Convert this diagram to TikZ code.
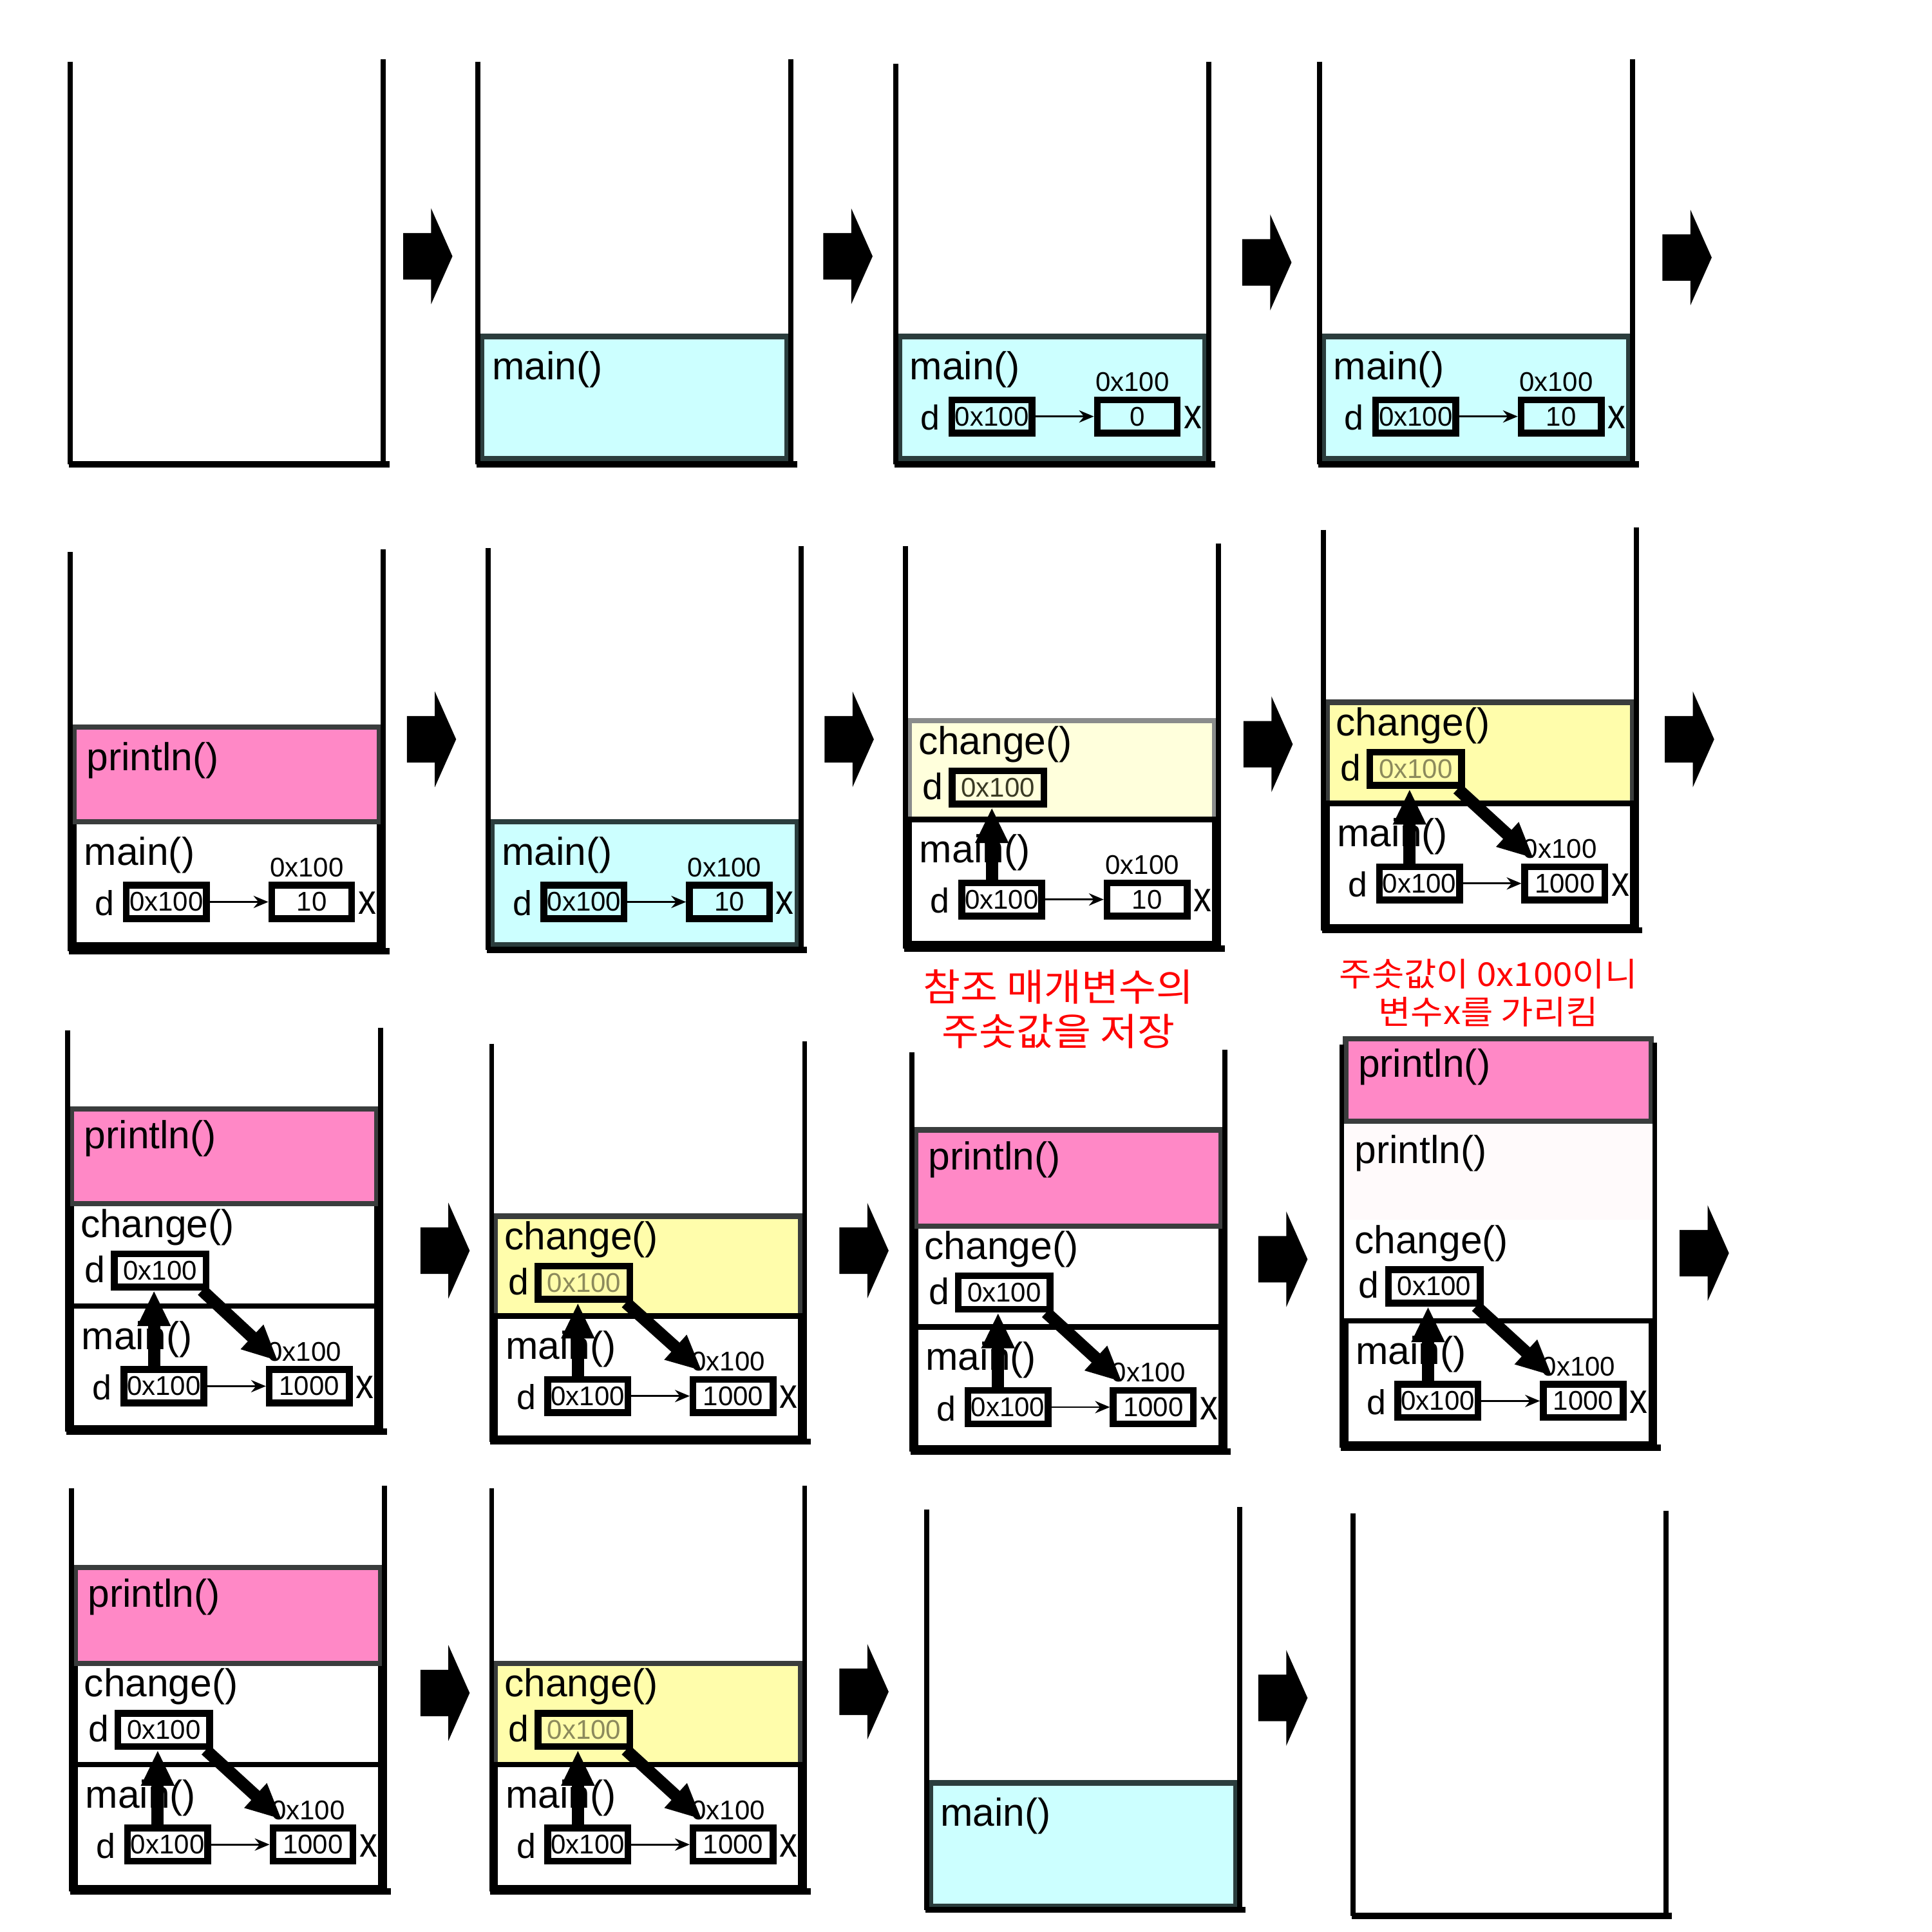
\documentclass[tikz,border=0pt]{standalone}
\usepackage{fontspec}
\usepackage{graphicx}
\setmainfont{Liberation Sans}
\newfontfamily\korfont[FakeStretch=1.07]{Noto Sans CJK KR}
\usepackage{tikz}
\usetikzlibrary{arrows.meta,shapes.arrows}
\definecolor{stackcyan}{HTML}{CCFFFF}
\definecolor{stackslate}{HTML}{2B3D3D}
\definecolor{stackpink}{HTML}{FF88C6}
\definecolor{stackgrey}{HTML}{3A3D3D}
\definecolor{stackyellow}{HTML}{FFFDAB}
\definecolor{stackpale}{HTML}{FFFFDC}
\definecolor{paleedge}{HTML}{8A8C8C}
\definecolor{faintpink}{HTML}{FFFAFB}
\definecolor{olivedark}{HTML}{3A3A24}
\definecolor{olivefade}{HTML}{8C8A5C}
\tikzset{
  wall/.style={line width=2.3pt},
  stackfloor/.style={line width=2.9pt},
  cyanblock/.style={fill=stackcyan, draw=stackslate, line width=2.5pt},
  pinkblock/.style={fill=stackpink, draw=stackgrey, line width=2.5pt},
  yellowblock/.style={fill=stackyellow, draw=stackgrey, line width=2.5pt},
  paleblock/.style={fill=stackpale, draw=paleedge, line width=2.5pt},
  whiteblock/.style={fill=white, draw=black, line width=2.5pt},
  faintblock/.style={fill=faintpink, draw=none},
  plainblock/.style={fill=white, draw=none},
  fname/.style={anchor=west, inner sep=0pt, font=\fontsize{18}{20}\selectfont},
  varname/.style={inner sep=0pt, font=\fontsize{16}{18}\selectfont},
  xname/.style={inner sep=0pt, font=\fontsize{19.5}{22}\selectfont},
  refname/.style={inner sep=0pt, font=\fontsize{17}{19}\selectfont},
  memcell/.style={draw, line width=0.11cm, minimum width=1.3cm, minimum height=0.54cm, inner sep=0pt, font=\fontsize{12.5}{14}\selectfont},
  refcell/.style={memcell, minimum width=1.49cm},
  addrlabel/.style={inner sep=0pt, font=\fontsize{12.5}{14}\selectfont},
  ptrarrow/.style={-{Stealth[length=0.24cm,width=0.2cm,inset=0.08cm]}, line width=0.8pt},
  refarrow/.style={-{Triangle[length=0.58cm,width=0.5cm]}, line width=0.2cm},
  steparrow/.style={single arrow, fill=black, inner xsep=0pt, inner ysep=0.37cm, minimum height=0.8cm, single arrow head extend=0.4cm, single arrow tip angle=132},
  notetext/.style={text=red, align=center, inner sep=0pt}
}
\newcommand{\stackwalls}[3]{%
  \draw[wall] (#1,#2) -- (#1,#3);
  \draw[wall] (#1+254,#2-2) -- (#1+254,#3);
  \draw[stackfloor] (#1-1,#3) -- (#1+259,#3);
}
\newcommand{\stackblock}[4]{%
  \draw[#1] (#2+3,#3) rectangle (#2+251,#4);
}
\newcommand{\mainvars}[4]{%
  \node[fname] (#1m) at (#2+11,#3+27) {main()};
  \node[varname] (#1dl) at (#2+28,#3+66) {d};
  \node[memcell] (#1d) at (#2+78,#3+65) {0x100};
  \node[addrlabel] (#1a) at (#2+192,#3+37) {0x100};
  \node[memcell] (#1x) at (#2+196,#3+65) {#4};
  \node[xname] (#1xl) at (#2+241,#3+66) {\scalebox{0.85}[1]{x}};
  \draw[ptrarrow] (#1d) -- (#1x);
}
\newcommand{\changevars}[4]{%
  \node[fname] (#1c) at (#2+10,#3+19) {change()};
  \node[refname] (#1cl) at (#2+22,#3+53) {d};
  \node[refcell, text=#4] (#1r) at (#2+75,#3+54) {0x100};
}

\begin{document}
\begin{tikzpicture}[x=0.02cm, y=-0.02cm]
\useasboundingbox (0,0) rectangle (1568,1568);

\stackwalls{57}{50}{377}

\stackblock{cyanblock}{388}{273}{372}
\stackwalls{388}{50}{377}
\node[fname] (f2m) at (399,300) {main()};

\stackblock{cyanblock}{727}{273}{372}
\stackwalls{727}{52}{377}
\mainvars{f3}{727}{273}{0}

\stackblock{cyanblock}{1071}{273}{372}
\stackwalls{1071}{50}{377}
\mainvars{f4}{1071}{273}{10}

\stackblock{whiteblock}{57}{667}{767}
\stackblock{pinkblock}{57}{590}{667}
\stackwalls{57}{448}{772}
\node[fname] (f5p) at (70,617) {println()};
\mainvars{f5}{57}{667}{10}

\stackblock{cyanblock}{396}{667}{767}
\stackwalls{396}{445}{771}
\mainvars{f6}{396}{667}{10}

\stackblock{paleblock}{735}{585}{665}
\stackblock{whiteblock}{735}{665}{766}
\stackwalls{735}{443}{770}
\changevars{f7}{735}{585}{olivedark}
\mainvars{f7}{735}{665}{10}
\draw[refarrow] ([xshift=-0.16cm]f7d.north) -- ([xshift=-0.16cm]f7d.north |- f7r.south);

\stackblock{yellowblock}{1074}{570}{652}
\stackblock{whiteblock}{1074}{652}{752}
\stackwalls{1074}{430}{755}
\changevars{f8}{1074}{570}{olivefade}
\mainvars{f8}{1074}{652}{1000}
\draw[refarrow] ([xshift=-0.16cm]f8d.north) -- ([xshift=-0.16cm]f8d.north |- f8r.south);
\draw[refarrow] ([xshift=-0.12cm]f8r.south east) -- ([xshift=0.2cm,yshift=0.08cm]f8x.north west);

\node[notetext, font=\korfont\fontsize{17.5}{20.5}\selectfont] (note1) at (859,819) {참조 매개변수의\\주솟값을 저장};
\node[notetext, font=\korfont\fontsize{15.2}{17.6}\selectfont] (note2) at (1208,806) {주솟값이 0x100이니\\변수x를 가리킴};

\stackblock{whiteblock}{55}{977}{1060}
\stackblock{whiteblock}{55}{1060}{1159}
\stackblock{pinkblock}{55}{900}{977}
\stackwalls{55}{836}{1162}
\node[fname] (f9p) at (68,924) {println()};
\changevars{f9}{55}{977}{black}
\mainvars{f9}{55}{1060}{1000}
\draw[refarrow] ([xshift=-0.16cm]f9d.north) -- ([xshift=-0.16cm]f9d.north |- f9r.south);
\draw[refarrow] ([xshift=-0.12cm]f9r.south east) -- ([xshift=0.2cm,yshift=0.08cm]f9x.north west);

\stackblock{yellowblock}{399}{987}{1068}
\stackblock{whiteblock}{399}{1068}{1167}
\stackwalls{399}{847}{1170}
\changevars{f10}{399}{987}{olivefade}
\mainvars{f10}{399}{1068}{1000}
\draw[refarrow] ([xshift=-0.16cm]f10d.north) -- ([xshift=-0.16cm]f10d.north |- f10r.south);
\draw[refarrow] ([xshift=-0.12cm]f10r.south east) -- ([xshift=0.2cm,yshift=0.08cm]f10x.north west);

\stackblock{whiteblock}{740}{995}{1077}
\stackblock{whiteblock}{740}{1077}{1175}
\stackblock{pinkblock}{740}{917}{995}
\stackwalls{740}{854}{1178}
\node[fname] (f11p) at (753,941) {println()};
\changevars{f11}{740}{995}{black}
\mainvars{f11}{740}{1077}{1000}
\draw[refarrow] ([xshift=-0.16cm]f11d.north) -- ([xshift=-0.16cm]f11d.north |- f11r.south);
\draw[refarrow] ([xshift=-0.12cm]f11r.south east) -- ([xshift=0.2cm,yshift=0.08cm]f11x.north west);

\stackblock{plainblock}{1089}{990}{1072}
\stackblock{faintblock}{1089}{910}{990}
\stackblock{whiteblock}{1089}{1072}{1172}
\stackblock{pinkblock}{1089}{843}{910}
\stackwalls{1089}{848}{1175}
\node[fname] (f12p) at (1102,866) {println()};
\node[fname] (f12q) at (1099,936) {println()};
\changevars{f12}{1089}{990}{black}
\mainvars{f12}{1089}{1072}{1000}
\draw[refarrow] ([xshift=-0.16cm]f12d.north) -- ([xshift=-0.16cm]f12d.north |- f12r.south);
\draw[refarrow] ([xshift=-0.12cm]f12r.south east) -- ([xshift=0.2cm,yshift=0.08cm]f12x.north west);

\stackblock{whiteblock}{58}{1350}{1432}
\stackblock{whiteblock}{58}{1432}{1532}
\stackblock{pinkblock}{58}{1272}{1350}
\stackwalls{58}{1208}{1535}
\node[fname] (f13p) at (71,1296) {println()};
\changevars{f13}{58}{1350}{black}
\mainvars{f13}{58}{1432}{1000}
\draw[refarrow] ([xshift=-0.16cm]f13d.north) -- ([xshift=-0.16cm]f13d.north |- f13r.south);
\draw[refarrow] ([xshift=-0.12cm]f13r.south east) -- ([xshift=0.2cm,yshift=0.08cm]f13x.north west);

\stackblock{yellowblock}{399}{1350}{1432}
\stackblock{whiteblock}{399}{1432}{1532}
\stackwalls{399}{1208}{1535}
\changevars{f14}{399}{1350}{olivefade}
\mainvars{f14}{399}{1432}{1000}
\draw[refarrow] ([xshift=-0.16cm]f14d.north) -- ([xshift=-0.16cm]f14d.north |- f14r.south);
\draw[refarrow] ([xshift=-0.12cm]f14r.south east) -- ([xshift=0.2cm,yshift=0.08cm]f14x.north west);

\stackblock{cyanblock}{752}{1447}{1547}
\stackwalls{752}{1225}{1550}
\node[fname] (f15m) at (763,1474) {main()};

\stackwalls{1098}{1228}{1555}

\node[steparrow] (s1) at (343,208) {};
\node[steparrow] (s2) at (684,208) {};
\node[steparrow] (s3) at (1024,213) {};
\node[steparrow] (s4) at (1365,209) {};
\node[steparrow] (s5) at (346,600) {};
\node[steparrow] (s6) at (685,600) {};
\node[steparrow] (s7) at (1025,604) {};
\node[steparrow] (s8) at (1367,600) {};
\node[steparrow] (s9) at (357,1015) {};
\node[steparrow] (s10) at (697,1015) {};
\node[steparrow] (s11) at (1037,1022) {};
\node[steparrow] (s12) at (1379,1017) {};
\node[steparrow] (s13) at (357,1374) {};
\node[steparrow] (s14) at (697,1373) {};
\node[steparrow] (s15) at (1037,1378) {};
\end{tikzpicture}
\end{document}
